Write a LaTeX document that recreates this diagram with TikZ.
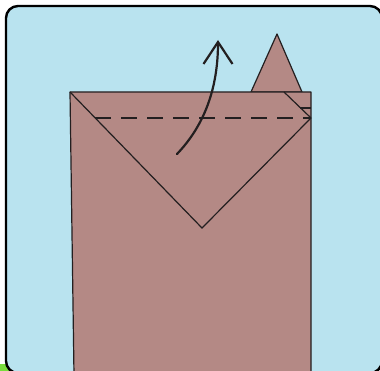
\documentclass[tikz,border=0pt]{standalone}
\usetikzlibrary{arrows.meta}
\definecolor{sky}{RGB}{185,227,239}
\definecolor{paper}{RGB}{180,137,133}
\definecolor{ink}{RGB}{35,31,32}
\definecolor{leaf}{RGB}{120,220,60}
\tikzset{
  frame/.style={draw=black,line width=2.4pt,fill=sky,rounded corners=12pt},
  sheet/.style={draw=ink,line width=1.2pt,fill=paper,line join=round},
  crease/.style={draw=ink,line width=1.2pt},
  valley/.style={draw=ink,line width=2pt,dash pattern=on 16pt off 10pt},
  fliparrow/.style={draw=ink,line width=2.2pt,line cap=round,-{Straight Barb[length=22pt,width=29pt,line width=2.2pt]}}
}
\begin{document}
\begin{tikzpicture}[x=1pt,y=-1pt]
\useasboundingbox (0,0) rectangle (380,371);
% green corner peeking behind the panel
\fill[leaf] (0,364) rectangle (12,371);
% panel
\draw[frame] (6,6) rectangle (382,373);
% small triangle behind the sheet
\coordinate (tA) at (251,92);
\coordinate (tB) at (277,34);
\coordinate (tC) at (302,92);
\path[sheet] (tA) -- (tB) -- (tC) -- cycle;
% the sheet
\coordinate (s1) at (70,92);
\coordinate (s2) at (311,92);
\coordinate (s3) at (311,375);
\coordinate (s4) at (74,375);
\path[sheet] (s1) -- (s2) -- (s3) -- (s4) -- cycle;
% folded flap
\coordinate (v) at (202,228);
\coordinate (r) at (311,118);
\draw[crease] (s1) -- (v) -- (r);
\coordinate (d1) at (284,92);
\coordinate (d2) at (300,108);
\coordinate (d3) at (311,108);
\draw[crease] (d1) -- (r);
\draw[crease] (d2) -- (d3);
% valley fold line
\coordinate (f1) at (95,118);
\draw[valley] (f1) -- (r);
% fold arrow
\coordinate (a0) at (177,154);
\coordinate (a1) at (218,40);
\draw[fliparrow] (a0) .. controls (200,130) and (218,95) .. (a1);
\end{tikzpicture}
\end{document}
